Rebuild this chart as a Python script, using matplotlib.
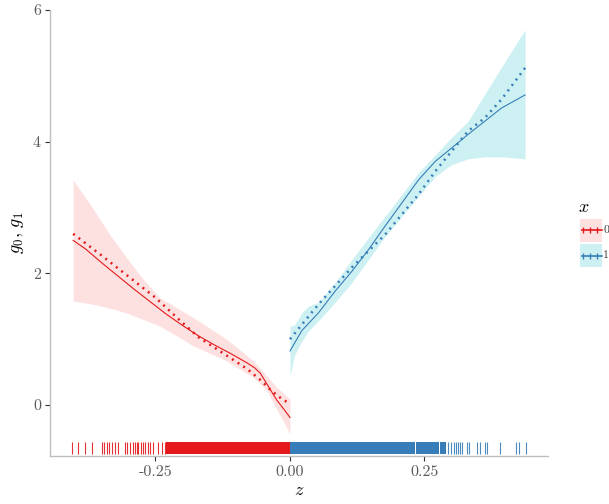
import matplotlib
matplotlib.use("Agg")
import matplotlib.pyplot as plt
from matplotlib.patches import Rectangle
from matplotlib.lines import Line2D

plt.rcParams['mathtext.fontset'] = 'cm'
plt.rcParams['font.family'] = ['cmr10', 'DejaVu Serif']
plt.rcParams['axes.unicode_minus'] = False

RED = '#E41A1C'
BLUE = '#377EB8'
RED_FILL = '#FDE1E1'
BLUE_FILL = '#CDF1F2'

# ---- data: group x = 0 (red, z < 0) ----
z0_line = [-0.403, -0.38, -0.35, -0.32, -0.29, -0.26, -0.23, -0.20, -0.17, -0.14,
           -0.11, -0.08, -0.065, -0.055, -0.04, -0.025, -0.01, 0.0]
g0_fit = [2.50, 2.37, 2.16, 1.96, 1.76, 1.57, 1.38, 1.21, 1.05, 0.91,
          0.78, 0.64, 0.56, 0.48, 0.28, 0.08, -0.08, -0.19]
z0_true = [-0.403, -0.35, -0.30, -0.25, -0.20, -0.17, -0.14, -0.11, -0.08,
           -0.055, -0.035, -0.015, 0.0]
g0_true = [2.60, 2.27, 1.95, 1.63, 1.25, 1.03, 0.87, 0.71, 0.55,
           0.38, 0.22, 0.09, 0.02]
z0_band = [-0.403, -0.366, -0.335, -0.304, -0.273, -0.242, -0.180, -0.118,
           -0.068, -0.043, -0.025, 0.0]
g0_upper = [3.42, 2.98, 2.59, 2.24, 1.91, 1.63, 1.33, 1.00, 0.67, 0.44, 0.27, 0.09]
g0_lower = [1.58, 1.53, 1.47, 1.40, 1.30, 1.20, 0.90, 0.67, 0.42, 0.22, -0.06, -0.44]

# ---- data: group x = 1 (blue, z >= 0) ----
z1_line = [0.0, 0.022, 0.053, 0.084, 0.115, 0.146, 0.177, 0.208, 0.239, 0.270,
           0.300, 0.331, 0.362, 0.393, 0.437]
g1_fit = [0.82, 1.13, 1.40, 1.73, 2.03, 2.36, 2.72, 3.07, 3.42, 3.70,
          3.90, 4.11, 4.31, 4.51, 4.71]
z1_true = [0.0, 0.053, 0.115, 0.177, 0.239, 0.270, 0.300, 0.331, 0.362, 0.393, 0.437]
g1_true = [1.00, 1.53, 2.09, 2.59, 3.20, 3.55, 3.85, 4.16, 4.36, 4.64, 5.12]
z1_band = [0.0, 0.008, 0.022, 0.034, 0.053, 0.084, 0.115, 0.177, 0.239, 0.270,
           0.300, 0.331, 0.362, 0.393, 0.437]
g1_upper = [1.20, 1.21, 1.40, 1.50, 1.56, 1.86, 2.21, 2.87, 3.53, 3.80,
            4.06, 4.31, 4.72, 5.13, 5.70]
g1_lower = [0.44, 0.75, 0.97, 1.12, 1.28, 1.56, 1.86, 2.56, 3.17, 3.47,
            3.65, 3.74, 3.77, 3.77, 3.74]

# ---- rug positions ----
rug0_sparse = [-0.4046, -0.3935, -0.3810, -0.3674, -0.3488, -0.3451, -0.3401, -0.3364,
               -0.3303, -0.3253, -0.3191, -0.3067, -0.3030, -0.2974, -0.2912, -0.2881,
               -0.2850, -0.2820, -0.2770, -0.2727, -0.2695, -0.2645, -0.2602, -0.2540,
               -0.2447, -0.2385, -0.2323]
rug0_dense = [-0.229, -0.227, -0.224, -0.222, -0.219, -0.217, -0.214, -0.212, -0.209, -0.207,
              -0.204, -0.202, -0.199, -0.197, -0.194, -0.192, -0.189, -0.187, -0.184, -0.182,
              -0.179, -0.177, -0.174, -0.172, -0.169, -0.167, -0.164, -0.162, -0.159, -0.157,
              -0.154, -0.152, -0.149, -0.147, -0.144, -0.142, -0.139, -0.137, -0.134, -0.132,
              -0.129, -0.127, -0.124, -0.122, -0.119, -0.117, -0.114, -0.112, -0.109, -0.107,
              -0.104, -0.102, -0.099, -0.097, -0.094, -0.092, -0.089, -0.087, -0.084, -0.082,
              -0.079, -0.077, -0.074, -0.072, -0.069, -0.067, -0.064, -0.062, -0.059, -0.057,
              -0.054, -0.052, -0.049, -0.047, -0.044, -0.042, -0.039, -0.037, -0.034, -0.032,
              -0.029, -0.027, -0.024, -0.022, -0.019, -0.017, -0.014, -0.012, -0.009, -0.007,
              -0.004, -0.002]
rug1_dense = [0.001, 0.003, 0.006, 0.008, 0.011, 0.013, 0.016, 0.018, 0.021, 0.023,
              0.026, 0.028, 0.031, 0.033, 0.036, 0.038, 0.041, 0.043, 0.046, 0.048,
              0.051, 0.053, 0.056, 0.058, 0.061, 0.063, 0.066, 0.068, 0.071, 0.073,
              0.076, 0.078, 0.081, 0.083, 0.086, 0.088, 0.091, 0.093, 0.096, 0.098,
              0.101, 0.103, 0.106, 0.108, 0.111, 0.113, 0.116, 0.118, 0.121, 0.123,
              0.126, 0.128, 0.131, 0.133, 0.136, 0.138, 0.141, 0.143, 0.146, 0.148,
              0.151, 0.153, 0.156, 0.158, 0.161, 0.163, 0.166, 0.168, 0.171, 0.173,
              0.176, 0.178, 0.181, 0.183, 0.186, 0.188, 0.191, 0.193, 0.196, 0.198,
              0.201, 0.203, 0.206, 0.208, 0.211, 0.213, 0.216, 0.218, 0.221, 0.223,
              0.226, 0.228, 0.231, 0.236, 0.239, 0.242, 0.245, 0.249, 0.252, 0.255,
              0.259, 0.262, 0.266, 0.269, 0.273, 0.276, 0.281, 0.285, 0.289]
rug1_sparse = [0.2943, 0.2987, 0.3048, 0.3086, 0.3129, 0.3160, 0.3191, 0.3296, 0.3333,
               0.3470, 0.3532, 0.3625, 0.3656, 0.3903, 0.4195, 0.4262, 0.4387]

xticks = [-0.25, 0.0, 0.25]
xtick_labels = ['-0.25', '0.00', '0.25']
yticks = [0, 2, 4, 6]
ytick_labels = ['0', '2', '4', '6']
legend_title = '$x$'
legend_labels = ['0', '1']

W, H = 609, 504
fig = plt.figure(figsize=(W / 100, H / 100), dpi=100)
ax = fig.add_axes([50 / W, 1 - 456 / H, (548 - 50) / W, (456 - 10) / H])

ax.fill_between(z0_band, g0_lower, g0_upper, color=RED_FILL, lw=0, zorder=1)
ax.fill_between(z1_band, g1_lower, g1_upper, color=BLUE_FILL, lw=0, zorder=1)

ax.plot(z0_line, g0_fit, color=RED, lw=0.8, zorder=3)
ax.plot(z1_line, g1_fit, color=BLUE, lw=0.8, zorder=3)
ax.plot(z0_true, g0_true, color=RED, lw=1.8, dashes=(0.8, 1.9), zorder=3)
ax.plot(z1_true, g1_true, color=BLUE, lw=1.8, dashes=(0.8, 1.9), zorder=3)

trans = ax.get_xaxis_transform()
ax.vlines(rug0_sparse, 0.004, 0.032, transform=trans, color=RED, lw=0.8,
          alpha=0.9, zorder=2)
ax.vlines(rug1_sparse, 0.004, 0.032, transform=trans, color=BLUE, lw=0.8,
          alpha=0.9, zorder=2)
ax.vlines(rug0_dense, 0.004, 0.032, transform=trans, color=RED, lw=1.1,
          antialiased=False, zorder=2)
ax.vlines(rug1_dense, 0.004, 0.032, transform=trans, color=BLUE, lw=1.1,
          antialiased=False, zorder=2)

ax.set_xlim(-0.4461, 0.4796)
ax.set_ylim(-0.775, 6.0)
ax.set_xticks(xticks)
ax.set_xticklabels(xtick_labels)
ax.set_yticks(yticks)
ax.set_yticklabels(ytick_labels)

for s in ['top', 'right']:
    ax.spines[s].set_visible(False)
for s in ['left', 'bottom']:
    ax.spines[s].set_color('#BEBEBE')
    ax.spines[s].set_linewidth(1.0)
ax.tick_params(axis='both', length=3.5, width=0.8, color='#333333',
               labelcolor='#5A5A5A', labelsize=11.5, pad=3)

ax.set_xlabel('$z$', fontsize=13, labelpad=3)
ax.set_ylabel('$g_0,\\, g_1$', fontsize=13, labelpad=5)

# ---- legend drawn manually (figure pixel coordinates) ----
def fx(px):
    return px / W

def fy(py):
    return 1 - py / H

fig.text(fx(584), fy(207), legend_title, fontsize=13, ha='center', va='center')
keys = [(219, 242, RED_FILL, RED), (244, 267, BLUE_FILL, BLUE)]
for (top, bot, fill, col), lab in zip(keys, legend_labels):
    fig.add_artist(Rectangle((fx(580), fy(bot)), fx(602) - fx(580), fy(top) - fy(bot),
                             transform=fig.transFigure, facecolor=fill, edgecolor='none'))
    yc = (top + bot) / 2
    fig.add_artist(Line2D([fx(581.5), fx(602)], [fy(yc), fy(yc)], transform=fig.transFigure,
                          color=col, lw=1.2))
    fig.add_artist(Line2D([fx(582.5), fx(589.5), fx(596.5)], [fy(yc)] * 3,
                          transform=fig.transFigure, color=col, lw=0, marker='|',
                          markersize=5, markeredgewidth=1.0))
    fig.text(fx(603), fy(yc), lab, fontsize=8.5, ha='left', va='center', color='#333333')

fig.savefig('out.png', dpi=100)
